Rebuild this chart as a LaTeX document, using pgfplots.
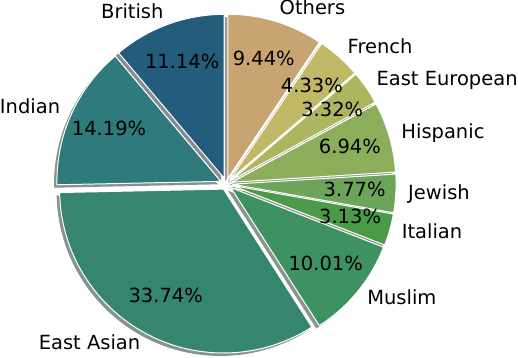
\documentclass[border=0pt]{standalone}
\usepackage{pgfplots}
\usepackage{pgfplotstable}
\pgfplotsset{compat=1.18}
\usepackage{fontspec}
\setmainfont{DejaVu Sans}

\definecolor{pie0}{RGB}{36,92,124}
\definecolor{pie1}{RGB}{46,122,124}
\definecolor{pie2}{RGB}{53,133,111}
\definecolor{pie3}{RGB}{62,145,96}
\definecolor{pie4}{RGB}{74,154,72}
\definecolor{pie5}{RGB}{108,165,90}
\definecolor{pie6}{RGB}{140,174,90}
\definecolor{pie7}{RGB}{173,181,94}
\definecolor{pie8}{RGB}{192,184,102}
\definecolor{pie9}{RGB}{200,165,112}
\colorlet{shad0}{pie0!30!black}
\colorlet{shad1}{pie1!30!black}
\colorlet{shad2}{pie2!30!black}
\colorlet{shad3}{pie3!30!black}
\colorlet{shad4}{pie4!30!black}
\colorlet{shad5}{pie5!30!black}
\colorlet{shad6}{pie6!30!black}
\colorlet{shad7}{pie7!30!black}
\colorlet{shad8}{pie8!30!black}
\colorlet{shad9}{pie9!30!black}

\tikzset{pielab/.style={inner sep=0pt, font=\fontsize{9.75}{11.7}\selectfont, text height=7.4pt, text depth=2.35pt}}

\pgfplotstableread[col sep=comma]{
label,pct
British,11.14
Indian,14.19
East Asian,33.74
Muslim,10.01
Italian,3.13
Jewish,3.77
Hispanic,6.94
East European,3.32
French,4.33
Others,9.44
}\piedata

\def\explode{0.0366}
\def\labdist{1.11}
\def\pctdist{0.785}
\def\shoff{0.018}
\def\cum{90}
\pgfplotsforeachungrouped \i in {0,...,9}{%
  \pgfplotstablegetelem{\i}{pct}\of\piedata
  \let\p\pgfplotsretval
  \expandafter\xdef\csname pct\i\endcsname{\p}%
  \pgfplotstablegetelem{\i}{label}\of\piedata
  \expandafter\xdef\csname lab\i\endcsname{\pgfplotsretval}%
  \pgfmathsetmacro\sa{\cum}%
  \pgfmathsetmacro\ea{\cum+3.6*\p}%
  \pgfmathsetmacro\mi{(\sa+\ea)/2}%
  \pgfmathsetmacro\dx{\explode*cos(\mi)}%
  \pgfmathsetmacro\dy{\explode*sin(\mi)}%
  \pgfmathsetmacro\xa{\dx+cos(\sa)}%
  \pgfmathsetmacro\ya{\dy+sin(\sa)}%
  \pgfmathsetmacro\sx{\dx-\shoff}%
  \pgfmathsetmacro\sy{\dy-\shoff}%
  \pgfmathsetmacro\sxa{\xa-\shoff}%
  \pgfmathsetmacro\sya{\ya-\shoff}%
  \pgfmathsetmacro\lx{\labdist*cos(\mi)}%
  \pgfmathsetmacro\ly{\labdist*sin(\mi)}%
  \pgfmathsetmacro\px{\pctdist*cos(\mi)}%
  \pgfmathsetmacro\py{\pctdist*sin(\mi)}%
  \pgfmathsetmacro\cc{cos(\mi)}%
  \ifdim\cc pt>0pt \expandafter\xdef\csname anc\i\endcsname{west}\else\expandafter\xdef\csname anc\i\endcsname{east}\fi
  \expandafter\xdef\csname sa\i\endcsname{\sa}%
  \expandafter\xdef\csname ea\i\endcsname{\ea}%
  \expandafter\xdef\csname dx\i\endcsname{\dx}%
  \expandafter\xdef\csname dy\i\endcsname{\dy}%
  \expandafter\xdef\csname xa\i\endcsname{\xa}%
  \expandafter\xdef\csname ya\i\endcsname{\ya}%
  \expandafter\xdef\csname sx\i\endcsname{\sx}%
  \expandafter\xdef\csname sy\i\endcsname{\sy}%
  \expandafter\xdef\csname sxa\i\endcsname{\sxa}%
  \expandafter\xdef\csname sya\i\endcsname{\sya}%
  \expandafter\xdef\csname lx\i\endcsname{\lx}%
  \expandafter\xdef\csname ly\i\endcsname{\ly}%
  \expandafter\xdef\csname px\i\endcsname{\px}%
  \expandafter\xdef\csname py\i\endcsname{\py}%
  \xdef\cum{\ea}%
}

\begin{document}
\begin{tikzpicture}
\begin{axis}[x=82pt, y=82pt, xmin=-1.378, xmax=1.7805, ymin=-1.0549, ymax=1.122,
  hide axis, clip=false]
\path (axis cs:-1.378,-1.0549) rectangle (axis cs:1.7805,1.122);
\pgfplotsinvokeforeach{0,...,9}{%
  \edef\tmp{\noexpand\fill[fill=shad#1, fill opacity=0.5] (axis cs:\csname sx#1\endcsname,\csname sy#1\endcsname) -- (axis cs:\csname sxa#1\endcsname,\csname sya#1\endcsname) arc[start angle=\csname sa#1\endcsname, end angle=\csname ea#1\endcsname, radius=82pt] -- cycle;}%
  \tmp
}
\pgfplotsinvokeforeach{0,...,9}{%
  \edef\tmp{\noexpand\filldraw[fill=pie#1, draw=white, line width=0.5pt, line join=round] (axis cs:\csname dx#1\endcsname,\csname dy#1\endcsname) -- (axis cs:\csname xa#1\endcsname,\csname ya#1\endcsname) arc[start angle=\csname sa#1\endcsname, end angle=\csname ea#1\endcsname, radius=82pt] -- cycle;}%
  \tmp
}
\pgfplotsinvokeforeach{0,...,9}{%
  \edef\tmp{\noexpand\node[pielab, anchor=\csname anc#1\endcsname] at (axis cs:\csname lx#1\endcsname,\csname ly#1\endcsname) {\csname lab#1\endcsname};}%
  \tmp
  \edef\tmp{\noexpand\node[pielab, anchor=center] at (axis cs:\csname px#1\endcsname,\csname py#1\endcsname) {\csname pct#1\endcsname\noexpand\%};}%
  \tmp
}
\end{axis}
\end{tikzpicture}
\end{document}
